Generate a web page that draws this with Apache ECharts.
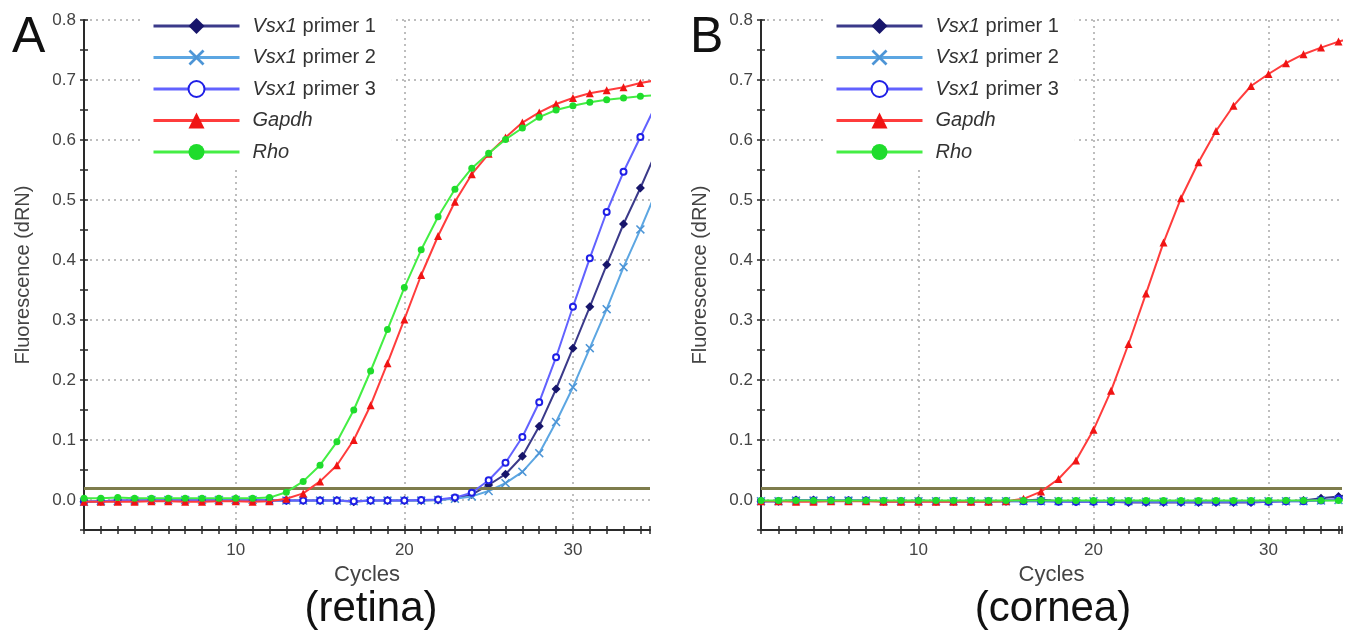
<!DOCTYPE html>
<html>
<head>
<meta charset="utf-8">
<script src="https://cdn.jsdelivr.net/npm/echarts@6/dist/echarts.min.js"></script>
<style>
html,body{margin:0;padding:0;background:#fff;}
#chart{width:1345px;height:630px;}
</style>
</head>
<body>
<div id="chart"></div>
<script>
// ---------- data ----------
const cycles = [1,2,3,4,5,6,7,8,9,10,11,12,13,14,15,16,17,18,19,20,21,22,23,24,25,26,27,28,29,30,31,32,33,34,35];
const seriesNames = ['Vsx1 primer 1','Vsx1 primer 2','Vsx1 primer 3','Gapdh','Rho'];
const threshold = 0.018;
const yTickLabels = ['0.0','0.1','0.2','0.3','0.4','0.5','0.6','0.7','0.8'];
const xTickLabels = ['10','20','30'];
const panelLetters = ['A','B'];
const panelTitles = ['(retina)','(cornea)'];

// Panel A (retina)
const retinaP1 = [-0.003,-0.002,-0.001,-0.001,0.000,0.000,0.000,0.000,0.000,0.000,0.000,-0.001,-0.001,-0.001,-0.001,-0.001,-0.003,-0.001,-0.001,-0.001,-0.001,0.000,0.003,0.009,0.025,0.043,0.073,0.123,0.185,0.253,0.322,0.392,0.460,0.520,0.584];
const retinaP2 = [-0.003,-0.002,-0.002,-0.001,0.000,0.000,0.000,0.000,0.000,0.000,0.000,-0.001,-0.001,-0.001,-0.001,-0.001,-0.002,-0.001,-0.001,-0.001,-0.001,0.000,0.002,0.006,0.015,0.028,0.047,0.078,0.130,0.188,0.253,0.318,0.388,0.451,0.518];
const retinaP3 = [-0.003,-0.002,-0.001,-0.001,0.000,0.000,0.000,0.000,0.000,0.000,0.000,-0.001,-0.001,-0.001,-0.001,-0.001,-0.002,-0.001,-0.001,-0.001,0.000,0.001,0.004,0.012,0.033,0.062,0.105,0.163,0.238,0.322,0.403,0.480,0.547,0.605,0.663];
const retinaGapdh = [-0.003,-0.003,-0.003,-0.003,-0.002,-0.002,-0.003,-0.003,-0.002,-0.002,-0.003,-0.002,0.002,0.011,0.031,0.058,0.100,0.158,0.228,0.301,0.375,0.440,0.497,0.543,0.577,0.604,0.629,0.646,0.660,0.670,0.678,0.683,0.688,0.695,0.700];
const retinaRho = [0.003,0.003,0.004,0.003,0.003,0.003,0.003,0.003,0.003,0.003,0.003,0.004,0.013,0.031,0.058,0.097,0.150,0.215,0.284,0.354,0.417,0.472,0.518,0.553,0.578,0.601,0.620,0.638,0.650,0.657,0.663,0.667,0.670,0.673,0.675];

// Panel B (cornea)
const corneaP1 = [-0.002,-0.002,0.000,0.000,-0.001,-0.001,-0.001,-0.002,-0.002,-0.001,-0.002,-0.002,-0.002,-0.002,-0.002,-0.001,0.001,-0.002,-0.003,-0.003,-0.003,-0.004,-0.004,-0.004,-0.004,-0.004,-0.004,-0.004,-0.004,-0.003,-0.002,-0.001,0.003,0.006,0.010];
const corneaP2 = [-0.002,-0.002,-0.001,-0.001,-0.001,-0.001,-0.001,-0.002,-0.002,-0.002,-0.002,-0.002,-0.002,-0.002,-0.002,-0.002,-0.002,-0.002,-0.002,-0.002,-0.002,-0.002,-0.003,-0.003,-0.003,-0.003,-0.003,-0.003,-0.002,-0.002,-0.002,-0.002,-0.001,0.000,0.001];
const corneaP3 = [-0.002,-0.002,-0.001,-0.001,-0.001,-0.001,-0.001,-0.002,-0.002,-0.002,-0.002,-0.002,-0.002,-0.002,-0.002,-0.002,-0.002,-0.003,-0.003,-0.003,-0.003,-0.003,-0.003,-0.003,-0.003,-0.003,-0.003,-0.003,-0.003,-0.003,-0.002,-0.002,-0.001,0.002,0.004];
const corneaGapdh = [-0.002,-0.002,-0.003,-0.003,-0.002,-0.002,-0.002,-0.003,-0.003,-0.003,-0.003,-0.003,-0.003,-0.003,-0.002,0.002,0.014,0.035,0.066,0.117,0.182,0.260,0.344,0.429,0.503,0.563,0.615,0.657,0.690,0.710,0.728,0.743,0.754,0.764,0.772];
const corneaRho = [-0.001,-0.001,-0.001,-0.001,-0.001,-0.001,-0.001,-0.001,-0.001,-0.001,-0.001,-0.001,-0.001,-0.001,-0.001,-0.001,-0.001,-0.001,-0.001,-0.001,-0.001,-0.001,-0.001,-0.001,-0.001,-0.001,-0.001,-0.001,-0.001,-0.001,-0.001,-0.001,-0.001,-0.001,-0.001];

// ---------- styles ----------
const FONT = '"Liberation Sans", Arial, Helvetica, sans-serif';
const styles = [
  {symbol:'diamond', size:9, color:'#17156b', line:'#3b3a8a'},
  {symbol:'path://M0,1.2 L1.2,0 L5,3.8 L8.8,0 L10,1.2 L6.2,5 L10,8.8 L8.8,10 L5,6.2 L1.2,10 L0,8.8 L3.8,5 Z', size:9, color:'#4d95d6', line:'#5ca6e2'},
  {symbol:'emptyCircle', size:6, color:'#1f1fe6', line:'#6262ff'},
  {symbol:'triangle', size:8, color:'#f01414', line:'#ff3c3c'},
  {symbol:'circle', size:7, color:'#1fdc2c', line:'#44ee44'}
];

const panels = [
  {left:84, width:566, xmax:34.57, data:[retinaP1, retinaP2, retinaP3, retinaGapdh, retinaRho], legendLeft:140, center:371, letterX:12},
  {left:761, width:584, xmax:34.2, data:[corneaP1, corneaP2, corneaP3, corneaGapdh, corneaRho], legendLeft:823, center:1053, letterX:690}
];

const grids = [], xAxes = [], yAxes = [], series = [], legends = [], graphics = [];
const xGridColors = ['transparent','transparent','transparent','transparent','transparent','transparent','transparent','transparent','transparent','#a9a9a9'];

panels.forEach((p, pi) => {
  grids.push({left:p.left, width:p.width, top:20, height:510, containLabel:false});
  xAxes.push({
    type:'value', gridIndex:pi, min:1, max:p.xmax, interval:1, position:'bottom',
    axisLine:{show:true, onZero:false, lineStyle:{color:'#2a2a2a', width:2}},
    axisTick:{show:true, length:4, lineStyle:{color:'#2a2a2a', width:1.5}},
    axisLabel:{show:true, margin:12, color:'#444', fontSize:17, fontFamily:FONT,
      formatter: v => { const s = String(Math.round(v)); return (Math.abs(v - Math.round(v)) < 1e-6 && xTickLabels.indexOf(s) >= 0) ? s : ''; }},
    splitLine:{show:true, lineStyle:{color:xGridColors, type:[2,4], width:1.5}},
    name:'Cycles', nameLocation:'middle', nameGap:31,
    nameTextStyle:{color:'#444', fontSize:22, fontFamily:FONT}
  });
  xAxes.push({type:'value', gridIndex:pi, min:1, max:p.xmax, interval:1, position:'bottom',
    axisLine:{show:false, onZero:false}, axisLabel:{show:false}, splitLine:{show:false},
    axisTick:{show:true, inside:true, length:4, lineStyle:{color:'#2a2a2a', width:1.5}}});
  yAxes.push({
    type:'value', gridIndex:pi, min:-0.05, max:0.8, interval:0.05, position:'left',
    axisLine:{show:true, onZero:false, lineStyle:{color:'#2a2a2a', width:2}},
    axisTick:{show:true, length:4, lineStyle:{color:'#2a2a2a', width:1.5}},
    axisLabel:{show:true, margin:8, color:'#444', fontSize:17, fontFamily:FONT,
      formatter: v => { const s = v.toFixed(1); return (Math.abs(v*10 - Math.round(v*10)) < 1e-6 && yTickLabels.indexOf(s) >= 0) ? s : ''; }},
    splitLine:{show:true, lineStyle:{color:['transparent','#a9a9a9'], type:[2,4], width:1.5}},
    name:'Fluorescence (dRN)', nameLocation:'middle', nameGap:51,
    nameTextStyle:{color:'#444', fontSize:20, fontFamily:FONT}
  });
  yAxes.push({type:'value', gridIndex:pi, min:-0.05, max:0.8, interval:0.05, position:'left',
    axisLine:{show:false, onZero:false}, axisLabel:{show:false}, splitLine:{show:false},
    axisTick:{show:true, inside:true, length:4, lineStyle:{color:'#2a2a2a', width:1.5}}});

  p.data.forEach((vals, si) => {
    const st = styles[si];
    const s = {
      type:'line', name:seriesNames[si], xAxisIndex:pi*2, yAxisIndex:pi*2,
      data: cycles.map((c, i) => [c, vals[i]]),
      symbol:st.symbol, symbolSize:st.size, showSymbol:true, showAllSymbol:true,
      smooth:false, clip:true,
      lineStyle:{color:st.line, width:2},
      itemStyle:{color:st.color, borderColor:st.color, borderWidth: st.symbol==='emptyCircle'?1.5:0},
      z: 3 + si
    };
    if (si === 3) {
      s.markLine = {silent:true, symbol:'none', animation:false, label:{show:false},
        lineStyle:{color:'#7e7c4c', width:3, type:'solid'},
        data:[{yAxis:threshold}]};
    }
    series.push(s);
  });

  legends.push({
    left:p.legendLeft, top:10, orient:'vertical',
    backgroundColor:'#fff', padding:[6,16,6,12],
    itemWidth:86, itemHeight:20, itemGap:11.5,
    lineStyle:{width:3},
    data: seriesNames.map(n => ({name:n})),
    textStyle:{color:'#333', fontSize:20, fontFamily:FONT, padding:[0,0,0,8],
      rich:{i:{fontStyle:'italic', fontSize:20, fontFamily:FONT, color:'#333'}}},
    formatter: n => n.indexOf('Vsx1') === 0 ? '{i|Vsx1}' + n.slice(4) : '{i|' + n + '}',
    selectedMode:false
  });

  graphics.push({type:'text', left:p.letterX, top:13,
    style:{text:panelLetters[pi], font:'50px ' + FONT, fill:'#111'}});
  graphics.push({type:'text', x:p.center, y:588,
    style:{text:panelTitles[pi], font:'42px ' + FONT, fill:'#111', align:'center', verticalAlign:'top'}});
});

const chart = echarts.init(document.getElementById('chart'), null, {renderer:'canvas'});
chart.setOption({
  animation:false,
  backgroundColor:'#fff',
  grid:grids, xAxis:xAxes, yAxis:yAxes, series:series, legend:legends, graphic:graphics
});
</script>
</body>
</html>
